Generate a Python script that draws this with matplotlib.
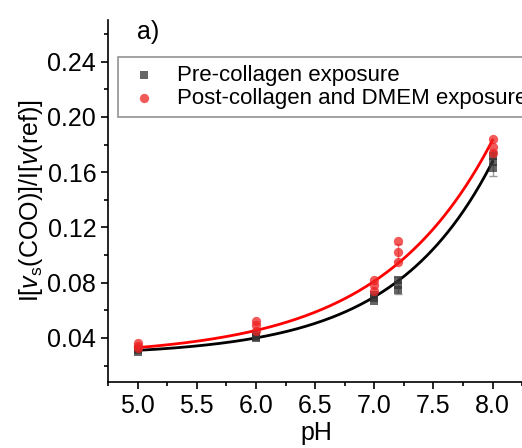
import numpy as np
import matplotlib
matplotlib.use('Agg')
import matplotlib.pyplot as plt
from matplotlib.ticker import MultipleLocator

plt.rcParams['font.family'] = ['Liberation Sans', 'DejaVu Sans']
plt.rcParams['mathtext.fontset'] = 'custom'
plt.rcParams['mathtext.rm'] = 'Liberation Sans'
plt.rcParams['mathtext.it'] = 'Liberation Sans:italic'

# replicate measurements
ph_pre = [5.0, 5.0, 5.0, 6.0, 6.0, 6.0, 7.0, 7.0, 7.0, 7.2, 7.2, 7.2, 8.0, 8.0, 8.0]
ratio_pre = [0.030, 0.031, 0.032, 0.040, 0.041, 0.042, 0.067, 0.069, 0.071,
             0.075, 0.078, 0.082, 0.163, 0.167, 0.172]
ph_post = [5.0, 5.0, 5.0, 6.0, 6.0, 6.0, 7.0, 7.0, 7.0, 7.2, 7.2, 7.2, 8.0, 8.0, 8.0]
ratio_post = [0.033, 0.034, 0.036, 0.045, 0.049, 0.052, 0.074, 0.078, 0.082,
              0.095, 0.102, 0.110, 0.174, 0.178, 0.184]

# error bars (mean +- sd)
err_ph_pre = [7.2, 8.0]
err_mean_pre = [0.078, 0.166]
err_sd_pre = [0.006, 0.009]
err_ph_post = [7.2]
err_mean_post = [0.102]
err_sd_post = [0.006]

# exponential fits y = y0 + B*exp(k*(pH-5))
fit_pre = (0.0271, 0.00391, 1.194)
fit_post = (0.02634, 0.00666, 1.053)

fig = plt.figure(figsize=(5.22, 4.48), dpi=100)
ax = fig.add_axes([0.207, 0.147, 0.80, 0.808])

xf = np.linspace(5.0, 8.0, 200)
for (y0, B, k), c in [(fit_pre, 'black'), (fit_post, 'red')]:
    ax.plot(xf, y0 + B*np.exp(k*(xf-5.0)), color=c, lw=2, zorder=3)

ax.errorbar(err_ph_pre, err_mean_pre, yerr=err_sd_pre, fmt='none',
            ecolor='#999999', elinewidth=1, capsize=3, zorder=2)
ax.errorbar(err_ph_post, err_mean_post, yerr=err_sd_post, fmt='none',
            ecolor='#f08080', elinewidth=1, capsize=3, zorder=2)

ax.scatter(ph_pre, ratio_pre, marker='s', s=40, color='#333333', alpha=0.75,
           lw=0, zorder=4, label='Pre-collagen exposure')
ax.scatter(ph_post, ratio_post, marker='o', s=45, color='#ee2222', alpha=0.75,
           lw=0, zorder=5, label='Post-collagen and DMEM exposure')

ax.set_xlim(4.75, 8.28)
ax.set_ylim(0.008, 0.27)
ax.xaxis.set_major_locator(MultipleLocator(0.5))
ax.xaxis.set_minor_locator(MultipleLocator(0.25))
ax.yaxis.set_major_locator(MultipleLocator(0.04))
ax.yaxis.set_minor_locator(MultipleLocator(0.02))
ax.xaxis.set_major_formatter(plt.FormatStrFormatter('%.1f'))
ax.yaxis.set_major_formatter(plt.FormatStrFormatter('%.2f'))
ax.tick_params(which='major', length=5, width=1.2, labelsize=18, direction='out')
ax.tick_params(which='minor', length=3, width=1.2, direction='out')
for s in ['top', 'right']:
    ax.spines[s].set_visible(False)
for s in ['left', 'bottom']:
    ax.spines[s].set_linewidth(1.2)

ax.set_xlabel('pH', fontsize=18, labelpad=2)
ax.set_ylabel(r'I[$\mathit{v}_{\mathrm{s}}$(COO)]/I[$\mathit{v}$(ref)]', fontsize=18, labelpad=2)

ax.text(0.097, 0.967, 'a)', transform=ax.transAxes, fontsize=18,
        ha='center', va='center')

leg = ax.legend(loc='upper left', bbox_to_anchor=(0.024, 0.898), borderaxespad=0,
                fontsize=16, frameon=True, fancybox=False, edgecolor='#777777',
                handlelength=1.6, handletextpad=0.7, labelspacing=0.1,
                borderpad=0.35, scatterpoints=1)
leg.get_frame().set_linewidth(1.2)

fig.savefig('out.png', dpi=100)
